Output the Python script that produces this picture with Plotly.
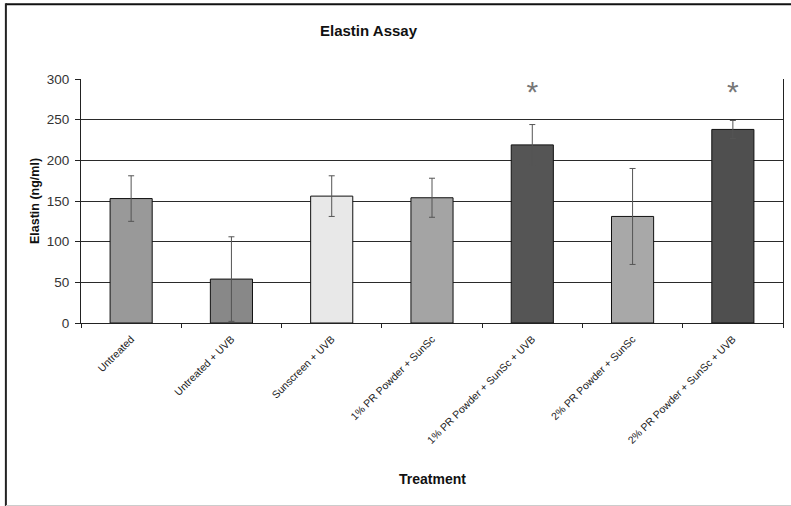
import plotly.graph_objects as go

# Elastin assay results per treatment group
treatments = [
    "Untreated",
    "Untreated + UVB",
    "Sunscreen + UVB",
    "1% PR Powder + SunSc",
    "1% PR Powder + SunSc + UVB",
    "2% PR Powder + SunSc",
    "2% PR Powder + SunSc + UVB",
]
elastin = [153, 54, 156, 154, 219, 131, 238]
elastin_err = [28, 52, 25, 24, 25, 59, 11]
bar_colors = ["#999999", "#888888", "#e8e8e8", "#a4a4a4", "#555555", "#a8a8a8", "#4f4f4f"]

# Groups marked as significant
sig_groups = ["1% PR Powder + SunSc + UVB", "2% PR Powder + SunSc + UVB"]
sig_level = [281, 281]

font = "Liberation Sans, Arial, sans-serif"

fig = go.Figure()
fig.add_trace(go.Bar(
    x=treatments,
    y=elastin,
    width=0.42,
    marker=dict(color=bar_colors, line=dict(color="#111111", width=1)),
    error_y=dict(type="data", array=elastin_err, visible=True,
                 color="#555555", thickness=1, width=3),
    showlegend=False,
))
fig.add_trace(go.Scatter(
    x=sig_groups,
    y=sig_level,
    mode="text",
    text=["*"] * len(sig_groups),
    textposition="middle center",
    textfont=dict(family=font, size=30, color="#777777"),
    showlegend=False,
    cliponaxis=False,
))

fig.update_layout(
    width=791,
    height=506,
    margin=dict(l=81, r=8, t=79, b=183),
    paper_bgcolor="white",
    plot_bgcolor="white",
    font=dict(family=font, color="#222222"),
    xaxis=dict(
        type="category",
        showline=True, linecolor="#222222", linewidth=1,
        ticks="outside", ticklen=4, tickcolor="#222222",
        tickson="boundaries",
        tickangle=-45,
        ticklabelstandoff=5,
        tickfont=dict(size=10.5, color="#222222"),
        showgrid=False,
    ),
    yaxis=dict(
        range=[0, 300],
        dtick=50,
        showline=True, linecolor="#222222", linewidth=1, mirror=True,
        ticks="outside", ticklen=5, tickcolor="#222222",
        ticklabelstandoff=3,
        tickfont=dict(size=13.5, color="#333333"),
        showgrid=True, gridcolor="#2a2a2a", gridwidth=1,
        zeroline=False,
    ),
    annotations=[
        dict(text="<b>Elastin Assay</b>", xref="paper", yref="paper",
             x=0.41, y=1.198, xanchor="center", yanchor="middle",
             showarrow=False, font=dict(size=15, color="#111111")),
        dict(text="<b>Elastin (ng/ml)</b>", xref="paper", yref="paper",
             x=-0.0655, y=0.5, xanchor="center", yanchor="middle",
             textangle=-90, showarrow=False,
             font=dict(size=12.5, color="#111111")),
        dict(text="<b>Treatment</b>", xref="paper", yref="paper",
             x=0.501, y=-0.639, xanchor="center", yanchor="middle",
             showarrow=False, font=dict(size=14, color="#111111")),
    ],
    shapes=[
        # chart frame
        dict(type="line", xref="paper", yref="paper", x0=-0.107, x1=1.02,
             y0=1.306, y1=1.306, line=dict(color="#111111", width=2)),
        dict(type="line", xref="paper", yref="paper", x0=-0.107, x1=-0.107,
             y0=1.31, y1=-0.75, line=dict(color="#222222", width=2)),
        dict(type="line", xref="paper", yref="paper", x0=-0.107, x1=1.02,
             y0=-0.748, y1=-0.748, line=dict(color="#cccccc", width=1)),
    ],
)

fig.write_html("out.html")
